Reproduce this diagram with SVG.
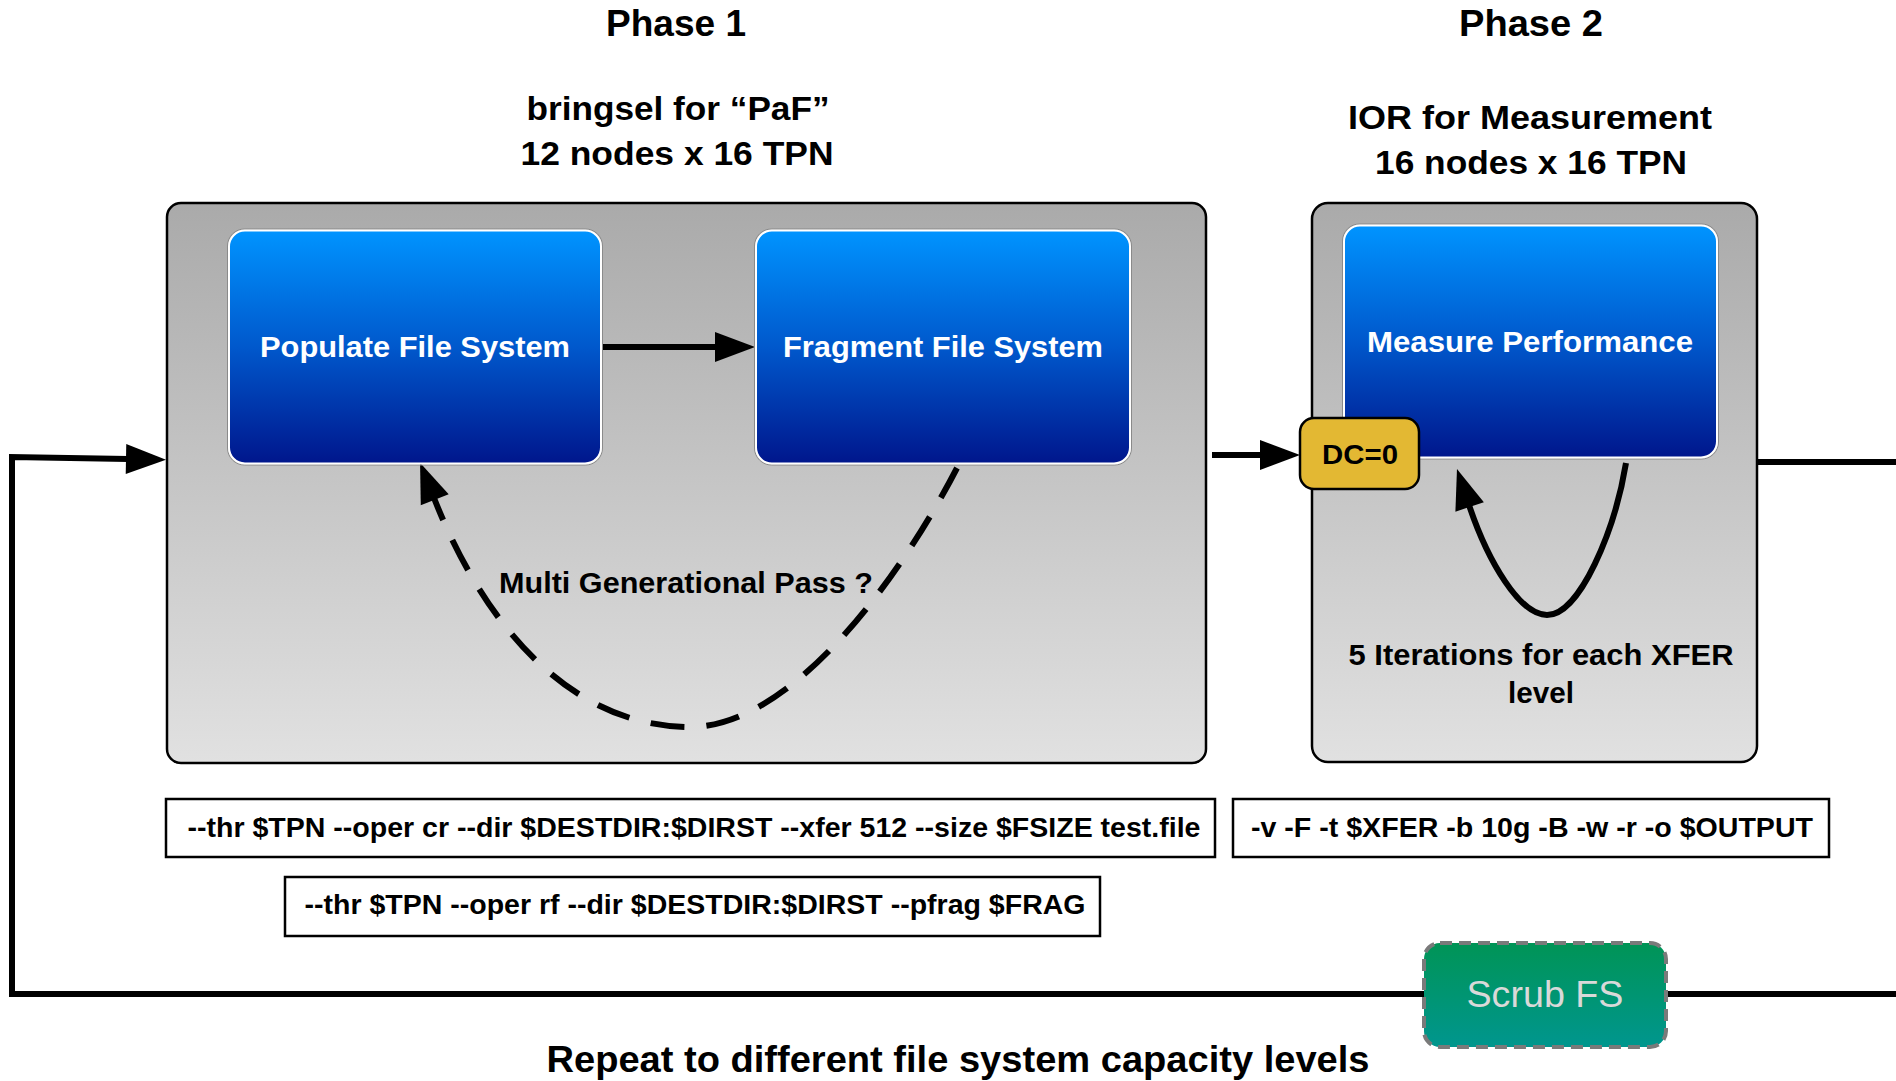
<svg xmlns="http://www.w3.org/2000/svg" width="1896" height="1081" viewBox="0 0 1896 1081">
  <style>
    .t { font-family: "Liberation Sans", Arial, sans-serif; font-weight: bold; fill: #000; text-anchor: middle; }
    .w { font-family: "Liberation Sans", Arial, sans-serif; font-weight: bold; fill: #fff; text-anchor: middle; }
    .cmd { font-family: "Liberation Sans", Arial, sans-serif; font-weight: bold; font-size: 27px; fill: #000; text-anchor: middle; }
    .phase { fill: url(#gray); stroke: #000; stroke-width: 2.5; }
    .task { fill: url(#blue); stroke: #fff; stroke-width: 2; }
    .rim { fill: none; stroke: #8a8a8a; stroke-width: 1; }
    .box { fill: #fff; stroke: #000; stroke-width: 2.5; }
    .line { fill: none; stroke: #000; stroke-width: 6; }
    .arrow { marker-end: url(#head); }
  </style>
  <defs>
    <linearGradient id="gray" gradientUnits="userSpaceOnUse" x1="0" y1="203" x2="0" y2="763">
      <stop offset="0" stop-color="#aaaaaa"/>
      <stop offset="1" stop-color="#e1e1e1"/>
    </linearGradient>
    <linearGradient id="blue" x1="0" y1="0" x2="0" y2="1">
      <stop offset="0" stop-color="#0094ff"/>
      <stop offset="0.5" stop-color="#0058cc"/>
      <stop offset="1" stop-color="#00168c"/>
    </linearGradient>
    <linearGradient id="green" x1="0" y1="0" x2="0" y2="1">
      <stop offset="0" stop-color="#009456"/>
      <stop offset="1" stop-color="#00968e"/>
    </linearGradient>
    <marker id="head" markerUnits="userSpaceOnUse" markerWidth="44" markerHeight="32" refX="2" refY="16" orient="auto" overflow="visible">
      <path d="M0,1 L40,16 L0,31 z" fill="#000"/>
    </marker>
  </defs>

  <!-- headings -->
  <text class="t" x="676" y="36" font-size="37" textLength="140" lengthAdjust="spacingAndGlyphs">Phase 1</text>
  <text class="t" x="1531" y="36" font-size="37" textLength="144" lengthAdjust="spacingAndGlyphs">Phase 2</text>
  <text class="t" x="678" y="120" font-size="34" textLength="303" lengthAdjust="spacingAndGlyphs">bringsel for “PaF”</text>
  <text class="t" x="677" y="165" font-size="34" textLength="313" lengthAdjust="spacingAndGlyphs">12 nodes x 16 TPN</text>
  <text class="t" x="1530" y="129" font-size="34" textLength="364" lengthAdjust="spacingAndGlyphs">IOR for Measurement</text>
  <text class="t" x="1531" y="174" font-size="34" textLength="312" lengthAdjust="spacingAndGlyphs">16 nodes x 16 TPN</text>

  <!-- phase containers -->
  <g id="phase1">
    <rect class="phase" x="167" y="203" width="1039" height="560" rx="14"/>
  </g>
  <g id="phase2">
    <rect class="phase" x="1312" y="203" width="445" height="559" rx="16"/>
  </g>

  <!-- connectors -->
  <g id="connectors">
    <path class="line arrow" d="M602,347 L717,347"/>
    <path class="line arrow" d="M1896,994 L12,994 L12,457 L128,459"/>
    <path class="line arrow" d="M1212,455 L1262,455"/>
    <path class="line" d="M1757,462 L1896,462"/>
    <path class="line arrow" stroke-dasharray="34 22" stroke-width="5.5" d="M957,468 C897,584 790,727 690,727 C580,727 490,640 434,498"/>
    <path class="line arrow" stroke-width="6" d="M1626,463 C1615,530 1580,615 1547,615 C1520,615 1488,562 1469,505"/>
    <path d="M1518,332 L1530,341" stroke="#000" stroke-width="2"/>
  </g>

  <!-- loop labels -->
  <g id="label-multigen">
    <rect x="498" y="564" width="378" height="38" fill="url(#gray)"/>
    <text class="t" x="686" y="593" font-size="29" textLength="374" lengthAdjust="spacingAndGlyphs">Multi Generational Pass ?</text>
  </g>
  <g id="label-iterations">
    <text class="t" x="1541" y="665" font-size="29" textLength="385" lengthAdjust="spacingAndGlyphs">5 Iterations for each XFER</text>
    <text class="t" x="1541" y="703" font-size="29" textLength="66" lengthAdjust="spacingAndGlyphs">level</text>
  </g>

  <!-- task nodes -->
  <g id="populate">
    <rect class="rim" x="227.5" y="229" width="375" height="236" rx="17"/>
    <rect class="task" x="229" y="230.5" width="372" height="233" rx="16"/>
    <text class="w" x="415" y="357" font-size="30" textLength="310" lengthAdjust="spacingAndGlyphs">Populate File System</text>
  </g>
  <g id="fragment">
    <rect class="rim" x="754.5" y="229" width="377" height="236" rx="17"/>
    <rect class="task" x="756" y="230.5" width="374" height="233" rx="16"/>
    <text class="w" x="943" y="357" font-size="30" textLength="320" lengthAdjust="spacingAndGlyphs">Fragment File System</text>
  </g>
  <g id="measure">
    <rect class="rim" x="1342.5" y="224" width="376" height="235" rx="17"/>
    <rect class="task" x="1344" y="225.5" width="373" height="232" rx="16"/>
    <text class="w" x="1530" y="352" font-size="30" textLength="326" lengthAdjust="spacingAndGlyphs">Measure Performance</text>
  </g>
  <g id="dc0">
    <rect x="1300" y="418" width="119" height="71" rx="14" fill="#e3b833" stroke="#000" stroke-width="2.5"/>
    <text class="t" x="1360" y="464" font-size="27" textLength="76" lengthAdjust="spacingAndGlyphs">DC=0</text>
  </g>

  <!-- command lines -->
  <g id="cmd-create">
    <rect class="box" x="166" y="799" width="1049" height="58"/>
    <text class="cmd" x="694" y="837" textLength="1013" lengthAdjust="spacingAndGlyphs">--thr $TPN --oper cr --dir $DESTDIR:$DIRST --xfer 512 --size $FSIZE test.file</text>
  </g>
  <g id="cmd-ior">
    <rect class="box" x="1233" y="799" width="596" height="58"/>
    <text class="cmd" x="1532" y="837" textLength="562" lengthAdjust="spacingAndGlyphs">-v -F -t $XFER -b 10g -B -w -r -o $OUTPUT</text>
  </g>
  <g id="cmd-frag">
    <rect class="box" x="285" y="877" width="815" height="59"/>
    <text class="cmd" x="695" y="914" textLength="781" lengthAdjust="spacingAndGlyphs">--thr $TPN --oper rf --dir $DESTDIR:$DIRST --pfrag $FRAG</text>
  </g>

  <!-- scrub step on the return path -->
  <g id="scrub">
    <rect x="1424" y="943" width="242" height="104" rx="16" fill="url(#green)" stroke="#7a7a7a" stroke-width="4" stroke-dasharray="12 7"/>
    <text x="1545" y="1007" font-family="Liberation Sans, Arial, sans-serif" font-size="37" fill="#d9d9d9" text-anchor="middle" textLength="157" lengthAdjust="spacingAndGlyphs">Scrub FS</text>
  </g>

  <text class="t" x="958" y="1072" font-size="36" textLength="823" lengthAdjust="spacingAndGlyphs">Repeat to different file system capacity levels</text>
</svg>
